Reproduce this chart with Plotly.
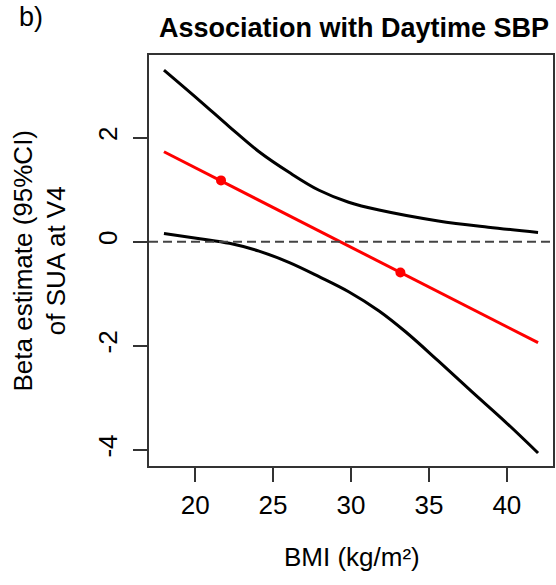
import plotly.graph_objects as go

# --- data ---
bmi_line = [18, 42]
beta_line = [1.73, -1.94]

bmi_points = [21.66, 33.17]
beta_points = [1.18, -0.59]

bmi_upper = [18, 20.3, 22.2, 24.1, 26.05, 27.95, 29.85, 31.8, 35.6, 38.8, 42]
ci_upper = [3.30, 2.71, 2.21, 1.73, 1.33, 0.99, 0.76, 0.61, 0.40, 0.28, 0.18]

bmi_lower = [18, 20.3, 22.2, 24.1, 26.05, 27.95, 29.85, 31.8, 33.5, 35.6, 37.75, 39.9, 42]
ci_lower = [0.16, 0.06, -0.03, -0.18, -0.40, -0.67, -0.96, -1.33, -1.73, -2.29, -2.88, -3.46, -4.06]

x_ticks = [20, 25, 30, 35, 40]
x_tick_labels = ["20", "25", "30", "35", "40"]
y_ticks = [-4, -2, 0, 2]
y_tick_labels = ["-4", "-2", "0", "2"]

FONT = "Liberation Sans, Arial, sans-serif"

fig = go.Figure()
fig.add_trace(go.Scatter(x=bmi_upper, y=ci_upper, mode="lines",
                         line=dict(color="black", width=3, shape="spline", smoothing=1.0),
                         showlegend=False, hoverinfo="skip"))
fig.add_trace(go.Scatter(x=bmi_lower, y=ci_lower, mode="lines",
                         line=dict(color="black", width=3, shape="spline", smoothing=1.0),
                         showlegend=False, hoverinfo="skip"))
fig.add_trace(go.Scatter(x=bmi_line, y=beta_line, mode="lines",
                         line=dict(color="#ff0000", width=3),
                         showlegend=False))
fig.add_trace(go.Scatter(x=bmi_points, y=beta_points, mode="markers",
                         marker=dict(color="#ff0000", size=10),
                         showlegend=False))

# dashed zero reference line across the whole panel
fig.add_shape(type="line", xref="paper", x0=0, x1=1, yref="y", y0=0, y1=0,
              line=dict(color="#444444", width=2, dash="9px,5px"))

axis_common = dict(
    showgrid=False, zeroline=False, showline=True, mirror=True,
    linecolor="#333333", linewidth=1.5,
    ticks="outside", ticklen=14, tickwidth=1.5, tickcolor="#333333",
    tickfont=dict(family=FONT, size=26, color="black"),
)

fig.update_xaxes(range=[17.04, 42.96], tickvals=x_ticks, ticktext=x_tick_labels,
                 ticklabelstandoff=1, **axis_common)
fig.update_yaxes(range=[-4.31, 3.59], tickvals=y_ticks, ticktext=y_tick_labels,
                 tickangle=-90, ticklabelstandoff=6, **axis_common)

W, H = 556, 585
L, R, T, B = 149, 1, 55, 119
pw, ph = W - L - R, H - T - B

def px_x(p):
    return (p - L) / pw

def px_y(p):
    return (H - B - p) / ph

annotations = [
    dict(text="<b>Association with Daytime SBP</b>", x=px_x(355), y=px_y(28),
         xref="paper", yref="paper", showarrow=False, xanchor="center", yanchor="middle",
         font=dict(family=FONT, size=27, color="black")),
    dict(text="b)", x=px_x(30), y=px_y(17),
         xref="paper", yref="paper", showarrow=False, xanchor="center", yanchor="middle",
         font=dict(family=FONT, size=27, color="black")),
    dict(text="BMI (kg/m²)", x=px_x(353), y=px_y(557),
         xref="paper", yref="paper", showarrow=False, xanchor="center", yanchor="middle",
         font=dict(family=FONT, size=26, color="black")),
    dict(text="Beta estimate (95%CI)<br>of SUA at V4", x=px_x(39), y=px_y(261),
         xref="paper", yref="paper", showarrow=False, xanchor="center", yanchor="middle",
         textangle=-90, font=dict(family=FONT, size=26, color="black")),
]

fig.update_layout(
    width=W, height=H, autosize=False,
    margin=dict(l=L, r=R, t=T, b=B),
    paper_bgcolor="white", plot_bgcolor="white",
    annotations=annotations,
    showlegend=False,
)

fig.write_html(
    "out.html",
    config={"displayModeBar": False, "responsive": False},
    post_script="document.body.style.margin='0';document.body.style.overflow='hidden';",
)
